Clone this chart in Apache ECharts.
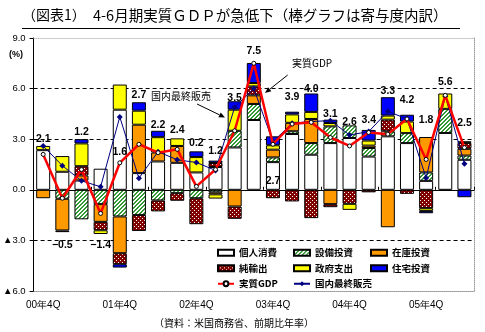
<!DOCTYPE html>
<html><head><meta charset="utf-8">
<script src="https://cdn.jsdelivr.net/npm/echarts@6/dist/echarts.min.js"></script>
<style>html,body{margin:0;padding:0;background:#fff}#c{width:485px;height:332px}</style>
</head><body><div id="c"></div><script>
// Quarterly categories and contributions to real GDP growth (annualised, %)
const quarters = ['00年4Q','01年1Q','01年2Q','01年3Q','01年4Q','02年1Q','02年2Q','02年3Q','02年4Q',
  '03年1Q','03年2Q','03年3Q','03年4Q','04年1Q','04年2Q','04年3Q','04年4Q','05年1Q','05年2Q','05年3Q',
  '05年4Q','06年1Q','06年2Q'];
const consumption = [2.35,1.07,0.55,1.25,4.75,0.99,1.68,1.6,1.03,1.35,2.51,4.14,1.64,3.31,2.08,2.77,3.07,1.97,3.17,2.77,0.53,3.37,1.78];
const equipment   = [0,-0.53,-1.75,-0.85,-1.58,-1.49,-0.63,-0.2,-0.5,-0.15,0.99,0.95,0.28,0.16,0.69,0.99,0.75,0.51,0.3,0.59,0.5,1.43,0.25];
const inventory   = [-0.5,-1.88,0.3,-1.05,-2.18,2.87,0.53,1.0,0,-0.12,-0.99,0.51,0.46,0.5,1.43,-0.85,0,0.14,-2.22,0,2.1,0,0.4];
const netExports  = [0,-0.1,0.55,-0.5,-0.65,-0.95,-0.65,-0.45,-1.54,0.24,-0.73,0.53,-0.5,-0.69,-1.68,-0.18,-0.83,-0.15,0.69,-0.24,-1.09,-0.06,0.35];
const government  = [0.25,0.93,1.35,-0.22,1.49,0.83,0.91,0.45,0.91,-0.25,1.25,0.2,0.26,0.5,0.42,0.2,-0.36,0.3,0.24,0.69,-0.16,0.91,0.1];
const housing     = [0,0,0.25,0,-0.2,0.5,0.38,0,0.34,0.14,0.5,1.19,0.53,0.16,1.09,0.2,0,0.63,1.09,0.4,-0.14,0,-0.44];
const realGDP     = [2.1,-0.5,1.2,-1.4,1.6,2.7,2.2,2.4,0.2,1.2,3.5,7.5,2.7,3.9,4.0,3.1,2.6,3.4,3.3,4.2,1.8,5.6,2.5];
const domesticSales = [2.6,1.43,0.53,0.18,4.32,0.69,2.26,1.78,1.62,1.15,4.9,6.0,2.85,3.95,4.05,4.1,3.25,3.45,4.65,4.2,0.7,5.55,1.55];
const yTicks = { min: -6, max: 9, step: 3 };

// vertical shift (px) of each GDP value label from its point
const labelShift = [-15,47,-37.5,32,-11,-49.5,-28,-19.6,-43,-18,-33,-12,36.5,-26.6,-33,-23,-24,-12,-43,-19,-39,-13,-24.6];

function hatchPattern() {
  const c = document.createElement('canvas'); c.width = 4; c.height = 4;
  const g = c.getContext('2d');
  g.fillStyle = '#ffffff'; g.fillRect(0, 0, 4, 4);
  g.fillStyle = '#339933';
  for (let x = 0; x < 4; x++) for (let y = 0; y < 4; y++) if ((x + y) % 4 < 2) g.fillRect(x, y, 1, 1);
  return c;
}
function dotPattern() {
  const c = document.createElement('canvas'); c.width = 4; c.height = 4;
  const g = c.getContext('2d');
  g.fillStyle = '#800000'; g.fillRect(0, 0, 4, 4);
  g.fillStyle = '#ffffff'; g.fillRect(0, 0, 1, 1); g.fillRect(2, 2, 1, 1);
  return c;
}

const barNames = ['個人消費','設備投資','在庫投資','純輸出','政府支出','住宅投資'];
const barValues = [consumption, equipment, inventory, netExports, government, housing];
const barFills = ['#ffffff', {image: hatchPattern(), repeat: 'repeat'}, '#ff9900',
                  {image: dotPattern(), repeat: 'repeat'}, '#ffff00', '#0000ff'];

const fmt = v => (v < 0 ? '\u2212' + (-v).toFixed(1) : v.toFixed(1));
const numFont = "'Liberation Sans', 'DejaVu Sans', sans-serif";
const jpFont = "'Noto Sans CJK JP', sans-serif";

const series = barNames.map((name, k) => ({
  name, type: 'bar', stack: 'gdp', barWidth: 14, z: 2,
  data: barValues[k].map(v => (v === 0 ? '-' : v)),
  itemStyle: {color: barFills[k], borderColor: '#000', borderWidth: 1},
  emphasis: {disabled: true},
  markLine: k === 0 ? {
    silent: true, symbol: 'none', label: {show: false},
    lineStyle: {color: '#999', type: 'dotted', width: 1},
    data: [{yAxis: yTicks.max}]
  } : undefined
}));
series.push({
  name: '国内最終販売', type: 'line', z: 3, data: domesticSales,
  symbol: 'diamond', symbolSize: 6,
  lineStyle: {color: '#000080', width: 1}, itemStyle: {color: '#000080'},
  emphasis: {disabled: true}
});
series.push({
  name: '実質GDP', type: 'line', z: 4,
  data: realGDP.map((v, i) => ({value: v, label: {offset: [0, labelShift[i]]}})),
  symbol: 'circle', symbolSize: 4,
  lineStyle: {color: '#ff0000', width: 2.5},
  itemStyle: {color: '#ffffff', borderColor: '#000', borderWidth: 1},
  label: {show: true, position: 'inside', formatter: p => fmt(p.value),
          fontFamily: numFont, fontWeight: 'bold', fontSize: 10.5, color: '#000'},
  emphasis: {disabled: true}
});

function arrow(x0, y0, x1, y1) {
  const a = Math.atan2(y1 - y0, x1 - x0), L = 6, W = 2.6;
  const bx = x1 - L * Math.cos(a), by = y1 - L * Math.sin(a);
  const px = -Math.sin(a) * W, py = Math.cos(a) * W;
  return [
    {type: 'line', shape: {x1: x0, y1: y0, x2: bx, y2: by}, style: {stroke: '#000', lineWidth: 1}},
    {type: 'polygon', shape: {points: [[x1, y1], [bx + px, by + py], [bx - px, by - py]]}, style: {fill: '#000'}}
  ];
}

const legendText = {fontFamily: jpFont, fontSize: 9.5, fontWeight: 'bold', color: '#000'};
const legendBase = {orient: 'vertical', top: 248, padding: 0, itemGap: 6, itemWidth: 16, itemHeight: 6,
                    selectedMode: false, textStyle: legendText};

const option = {
  animation: false,
  backgroundColor: '#fff',
  grid: {left: 29, right: 11, top: 38, bottom: 41},
  legend: [
    Object.assign({left: 217, data: [{name: '個人消費', icon: 'rect'}, {name: '純輸出', icon: 'rect'}, '実質GDP']}, legendBase),
    Object.assign({left: 293, data: [{name: '設備投資', icon: 'rect'}, {name: '政府支出', icon: 'rect'}, '国内最終販売']}, legendBase),
    Object.assign({left: 370, data: [{name: '在庫投資', icon: 'rect'}, {name: '住宅投資', icon: 'rect'}]}, legendBase)
  ],
  xAxis: [
    {type: 'category', data: quarters, position: 'bottom',
     axisLine: {onZero: false, lineStyle: {color: '#999', type: 'dotted'}},
     axisTick: {show: false},
     axisLabel: {interval: 3, margin: 9, fontSize: 10, color: '#000', fontFamily: numFont}},
    {type: 'category', data: quarters, position: 'top',
     axisLine: {onZero: true, lineStyle: {color: '#000', width: 1}},
     axisTick: {show: true, length: 3, lineStyle: {color: '#000'}},
     axisLabel: {show: false}}
  ],
  yAxis: [
    {type: 'value', min: yTicks.min, max: yTicks.max, interval: yTicks.step,
     axisLine: {show: true, onZero: false, lineStyle: {color: '#000', width: 1}},
     axisTick: {show: true, length: 4, lineStyle: {color: '#000'}},
     axisLabel: {margin: 8, fontSize: 9.5, color: '#000', fontFamily: numFont,
                 formatter: v => (v < 0 ? '▲' + (-v).toFixed(1) : v.toFixed(1))},
     splitLine: {show: true, showMinLine: false, showMaxLine: false,
                 lineStyle: {color: '#000', type: [4, 3], width: 1}}},
    {type: 'value', min: yTicks.min, max: yTicks.max, interval: yTicks.step, position: 'right',
     axisLine: {show: true, onZero: false, lineStyle: {color: '#999', type: 'dotted'}},
     axisTick: {show: false}, axisLabel: {show: false}, splitLine: {show: false}}
  ],
  graphic: [
    {type: 'text', x: 22, y: 15, style: {text: '（図表1）', font: "14px 'Noto Sans CJK JP'", fill: '#000', verticalAlign: 'middle'}},
    {type: 'text', x: 93, y: 15, style: {text: '4-6月期実質ＧＤＰが急低下（棒グラフは寄与度内訳）', font: "14.5px 'Noto Sans CJK JP'", fill: '#000', verticalAlign: 'middle'}},
    {type: 'line', shape: {x1: 22, y1: 28.5, x2: 460, y2: 28.5}, style: {stroke: '#000', lineWidth: 1}},
    {type: 'text', x: 9, y: 55, style: {text: '(%)', font: "bold 9px 'Liberation Sans'", fill: '#000', verticalAlign: 'middle'}},
    {type: 'text', x: 292, y: 63, style: {text: '実質GDP', font: "10px 'Noto Sans CJK JP'", fill: '#000', verticalAlign: 'middle'}},
    {type: 'text', x: 151, y: 96, style: {text: '国内最終販売', font: "10px 'Noto Sans CJK JP'", fill: '#000', verticalAlign: 'middle'}},
    ...arrow(287.7, 75, 265, 93),
    ...arrow(197, 104, 225, 117.5),
    {type: 'text', x: 234, y: 323, style: {text: '（資料：米国商務省、前期比年率）', font: "10px 'Noto Sans CJK JP'", fill: '#000', align: 'center', verticalAlign: 'middle'}}
  ],
  series
};

const chart = echarts.init(document.getElementById('c'));
chart.setOption(option);
</script></body></html>
